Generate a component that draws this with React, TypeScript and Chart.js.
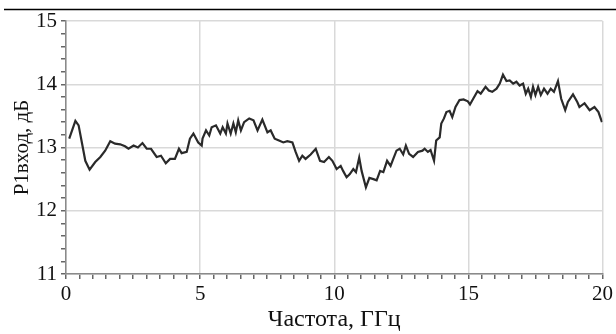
import React, { useEffect, useRef } from "react";
import { Chart, registerables } from "chart.js";

Chart.register(...registerables);

const freq: number[] = [
  0.12, 0.35, 0.47, 0.6, 0.72, 0.88, 1.09, 1.28, 1.46, 1.65, 1.83, 2.02, 2.2, 2.33, 2.52, 2.68, 2.85, 3.01, 3.17, 3.38,
  3.54, 3.72, 3.88, 4.06, 4.21, 4.31, 4.5, 4.62, 4.75, 4.93, 5.06, 5.09, 5.22, 5.34, 5.43, 5.59, 5.75, 5.84, 5.96, 6.02,
  6.14, 6.24, 6.33, 6.42, 6.52, 6.64, 6.83, 6.99, 7.14, 7.32, 7.51, 7.63, 7.78, 7.94, 8.1, 8.25, 8.44, 8.56, 8.69, 8.81,
  8.93, 9.12, 9.31, 9.47, 9.62, 9.8, 9.93, 10.09, 10.15, 10.24, 10.33, 10.46, 10.58, 10.71, 10.81, 10.93, 11.02, 11.18,
  11.31, 11.46, 11.58, 11.71, 11.83, 11.97, 12.1, 12.2, 12.32, 12.44, 12.57, 12.67, 12.79, 12.94, 13.12, 13.29, 13.37,
  13.49, 13.59, 13.72, 13.8, 13.93, 13.99, 14.09, 14.18, 14.3, 14.4, 14.52, 14.67, 14.82, 14.98, 15.06, 15.18, 15.34,
  15.46, 15.64, 15.76, 15.89, 16.05, 16.17, 16.29, 16.42, 16.54, 16.67, 16.79, 16.91, 17.04, 17.14, 17.23, 17.33, 17.41,
  17.5, 17.6, 17.7, 17.82, 17.95, 18.07, 18.19, 18.34, 18.46, 18.61, 18.71, 18.9, 19.06, 19.14, 19.33, 19.52, 19.7,
  19.85, 19.98,
];

const p1Input: number[] = [
  13.14, 13.42, 13.35, 13.06, 12.79, 12.65, 12.77, 12.85, 12.95, 13.1, 13.06, 13.05, 13.02, 12.98, 13.03, 13.0, 13.07,
  12.98, 12.98, 12.85, 12.87, 12.75, 12.82, 12.82, 12.98, 12.91, 12.93, 13.14, 13.22, 13.08, 13.03, 13.14, 13.27, 13.19,
  13.32, 13.35, 13.22, 13.32, 13.22, 13.38, 13.22, 13.38, 13.24, 13.43, 13.27, 13.4, 13.46, 13.43, 13.27, 13.44, 13.24,
  13.27, 13.14, 13.11, 13.08, 13.1, 13.08, 12.93, 12.79, 12.87, 12.82, 12.89, 12.98, 12.79, 12.77, 12.85, 12.79, 12.66,
  12.68, 12.71, 12.63, 12.53, 12.58, 12.66, 12.61, 12.84, 12.63, 12.37, 12.52, 12.5, 12.48, 12.63, 12.61, 12.79, 12.71,
  12.82, 12.95, 12.98, 12.89, 13.03, 12.9, 12.85, 12.93, 12.95, 12.98, 12.93, 12.96, 12.79, 13.11, 13.16, 13.38, 13.46,
  13.56, 13.58, 13.48, 13.64, 13.75, 13.76, 13.73, 13.68, 13.77, 13.89, 13.85, 13.96, 13.9, 13.88, 13.93, 14.01, 14.15,
  14.05, 14.06, 14.01, 14.04, 13.98, 14.01, 13.85, 13.93, 13.8, 13.96, 13.83, 13.96, 13.83, 13.93, 13.85, 13.93, 13.88,
  14.05, 13.77, 13.59, 13.72, 13.84, 13.72, 13.64, 13.7, 13.59, 13.64, 13.56, 13.4,
];

const xMajorTicks: number[] = [0, 5, 10, 15, 20];
const yMajorTicks: number[] = [11, 12, 13, 14, 15];

const xTitle = "Частота, ГГц";
const yTitle = "P1вход, дБ";

const isMajor = (v: number, list: number[]) => list.some((m) => Math.abs(m - v) < 1e-6);

export default function App() {
  const ref = useRef<HTMLCanvasElement | null>(null);

  useEffect(() => {
    if (!ref.current) return;
    const font = "'Liberation Serif', 'Times New Roman', serif";
    const topLine = {
      id: "topLine",
      afterDraw(chart: any) {
        const c = chart.ctx;
        c.save();
        c.strokeStyle = "#000";
        c.lineWidth = 1.5;
        c.beginPath();
        c.moveTo(4, 9.5);
        c.lineTo(616, 9.5);
        c.stroke();
        c.restore();
      },
    };
    const chart = new Chart(ref.current, {
      type: "line",
      data: {
        datasets: [
          {
            data: freq.map((f, i) => ({ x: f, y: p1Input[i] })),
            borderColor: "#2a2a2a",
            borderWidth: 2.2,
            pointRadius: 0,
            tension: 0,
            fill: false,
          },
        ],
      },
      options: {
        animation: false,
        responsive: false,
        maintainAspectRatio: false,
        layout: { padding: { top: 21, right: 12, left: 0, bottom: 0 } },
        plugins: { legend: { display: false }, tooltip: { enabled: false } },
        scales: {
          x: {
            type: "linear",
            min: 0,
            max: 20,
            afterFit(scale: any) {
              scale.height = 60;
            },
            ticks: {
              stepSize: 0.5,
              autoSkip: false,
              maxRotation: 0,
              padding: 3,
              color: "#111",
              font: { family: font, size: 21 },
              callback: (v: any) => (isMajor(Number(v), xMajorTicks) ? String(Math.round(Number(v))) : ""),
            },
            grid: {
              color: (ctx: any) => (ctx.tick && isMajor(ctx.tick.value, xMajorTicks) ? "#d9d9d9" : "rgba(0,0,0,0)"),
              tickColor: "#666",
              tickLength: 5,
              lineWidth: 1.5,
            },
            border: { color: "#8a8a8a", width: 1.5 },
            title: {
              display: true,
              text: xTitle,
              color: "#111",
              font: { family: font, size: 24 },
              padding: { top: 0, bottom: 0 },
            },
          },
          y: {
            type: "linear",
            min: 11,
            max: 15,
            afterFit(scale: any) {
              scale.width = 66;
            },
            ticks: {
              stepSize: 0.2,
              autoSkip: false,
              padding: 4,
              color: "#111",
              font: { family: font, size: 21 },
              callback: (v: any) => (isMajor(Number(v), yMajorTicks) ? String(Math.round(Number(v))) : ""),
            },
            grid: {
              color: (ctx: any) => (ctx.tick && isMajor(ctx.tick.value, yMajorTicks) ? "#d9d9d9" : "rgba(0,0,0,0)"),
              tickColor: "#666",
              tickLength: 5,
              lineWidth: 1.5,
            },
            border: { color: "#8a8a8a", width: 1.5 },
            title: {
              display: true,
              text: yTitle,
              color: "#111",
              font: { family: font, size: 21 },
              padding: { top: 10, bottom: 0 },
            },
          },
        },
      },
      plugins: [topLine],
    } as any);
    return () => chart.destroy();
  }, []);

  return (
    <div style={{ position: "fixed", left: 0, top: 0, width: 616, height: 334, background: "#fff" }}>
      <canvas ref={ref} width={616} height={334} style={{ width: 616, height: 334, display: "block" }} />
    </div>
  );
}
